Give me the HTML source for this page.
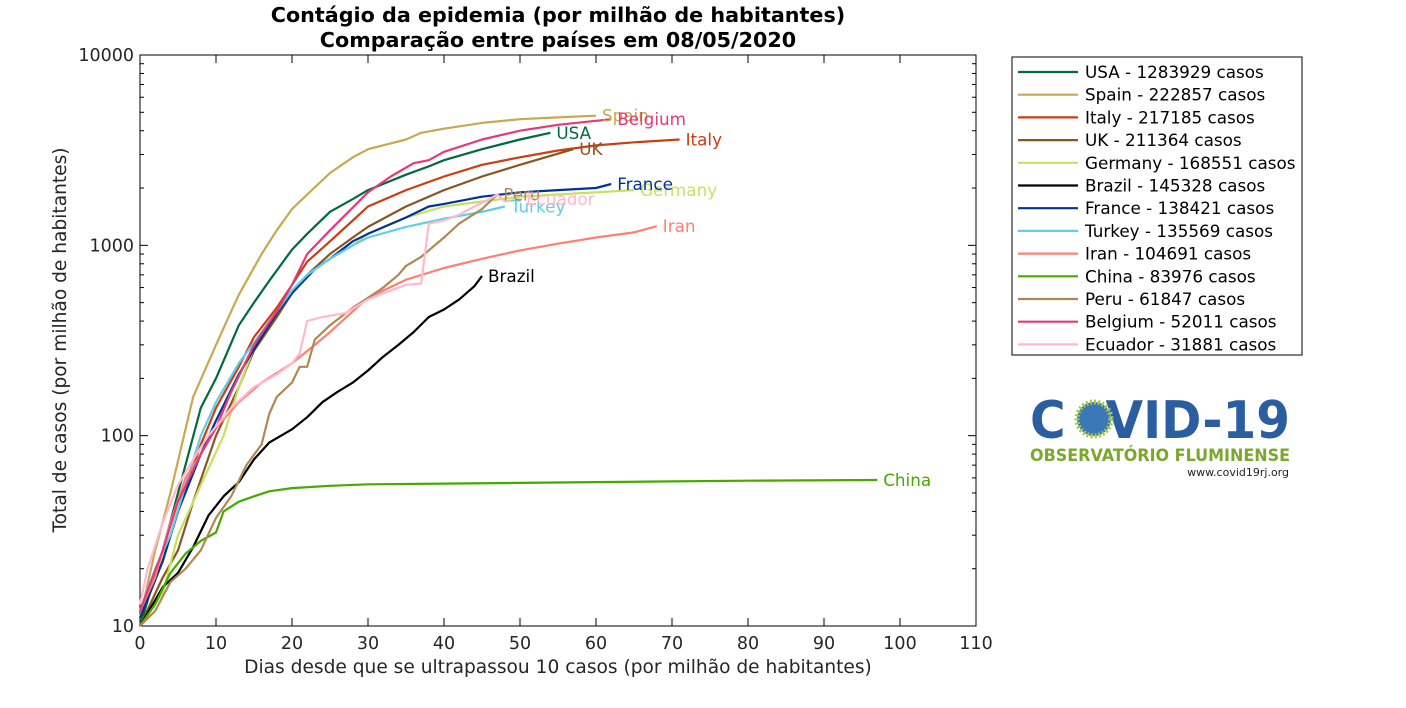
<!DOCTYPE html>
<html><head><meta charset="utf-8">
<style>
body{margin:0;background:#fff;width:1406px;height:703px;overflow:hidden;font-family:"Liberation Sans","DejaVu Sans",sans-serif;}
svg text{font-family:"DejaVu Sans","Liberation Sans",sans-serif;}
</style></head>
<body>
<svg id="chart" width="1406" height="703" xmlns="http://www.w3.org/2000/svg">
<text x="558" y="22" text-anchor="middle" font-size="20.7" font-weight="bold">Contágio da epidemia (por milhão de habitantes)</text>
<text x="558" y="47" text-anchor="middle" font-size="20.7" font-weight="bold">Comparação entre países em 08/05/2020</text>
<rect x="140" y="55" width="836" height="571" fill="#fff" stroke="#000" stroke-width="1"/>
<g id="axes"></g>
<g id="series"></g>
<text x="558" y="673" text-anchor="middle" font-size="18.6" fill="#262626">Dias desde que se ultrapassou 10 casos (por milhão de habitantes)</text>
<text transform="translate(66,340) rotate(-90)" text-anchor="middle" font-size="18.6" fill="#262626">Total de casos (por milhão de habitantes)</text>
<rect x="1012" y="57" width="290" height="298" fill="#fff" stroke="#000" stroke-width="1"/>
<g id="legend"></g>
<g>
<text x="1030" y="438" font-size="52" font-weight="bold" fill="#2a5ea0" font-family="Liberation Sans" textLength="260" lengthAdjust="spacingAndGlyphs">C<tspan fill="#fff">O</tspan>VID-19</text>
<circle cx="1094" cy="419" r="17" fill="#3a78b8" stroke="#a8c848" stroke-width="5" stroke-dasharray="2 2"/>
<text x="1030" y="461" font-size="17" font-weight="bold" fill="#7aa82a" font-family="Liberation Sans" textLength="260" lengthAdjust="spacingAndGlyphs">OBSERVATÓRIO FLUMINENSE</text>
<text x="1289" y="476" text-anchor="end" font-size="11" fill="#222" font-family="Liberation Sans">www.covid19rj.org</text>
</g>
</svg>
<script>
const countries=["USA","Spain","Italy","UK","Germany","Brazil","France","Turkey","Iran","China","Peru","Belgium","Ecuador"];
const totals=["1283929","222857","217185","211364","168551","145328","138421","135569","104691","83976","61847","52011","31881"];
const colors=["#006b3c","#c8a850","#cc3d10","#8b5522","#c8e060","#000000","#003399","#5bd0e8","#ff8070","#44aa00","#b08850","#e83878","#ffb8d0"];
const usaDays=[0,3,5,8,10,13,15,17,20,22,25,28,30,35,38,40,45,50,54];
const usaVals=[10,25,50,140,200,380,500,650,950,1150,1500,1750,1950,2350,2600,2800,3200,3600,3900];
const spainDays=[0,2,4,7,10,12,13,16,18,20,22,25,28,30,35,37,40,45,50,55,60];
const spainVals=[11,25,50,160,300,450,550,900,1200,1550,1850,2400,2900,3200,3600,3900,4100,4400,4600,4700,4800];
const italyDays=[0,3,5,8,10,13,15,18,20,22,25,28,30,35,40,45,50,55,60,65,71];
const italyVals=[11,22,40,90,140,230,330,470,620,820,1050,1350,1600,1950,2300,2650,2900,3150,3350,3480,3600];
const ukDays=[0,3,5,7,10,13,15,18,20,22,25,28,30,35,40,45,50,57];
const ukVals=[10,18,25,45,100,180,280,420,560,700,900,1100,1250,1600,1950,2300,2650,3200];
const germanyDays=[0,3,5,8,11,13,15,18,20,23,25,28,30,35,40,45,50,55,60,65];
const germanyVals=[10,15,30,55,100,180,290,450,580,750,850,1000,1150,1400,1600,1700,1800,1850,1900,1950];
const brazilDays=[0,3,5,7,9,11,13,15,17,20,22,24,26,28,30,32,34,36,38,40,42,44,45];
const brazilVals=[10,16,19,26,38,48,57,75,92,108,125,150,170,190,220,260,300,350,420,460,520,610,690];
const franceDays=[0,3,5,8,10,13,16,18,20,23,25,28,30,35,38,40,45,50,55,60,62];
const franceVals=[11,22,40,80,120,210,330,440,560,750,850,1050,1150,1400,1600,1650,1800,1900,1950,2000,2100];
const turkeyDays=[0,2,4,6,8,10,13,16,18,20,22,25,28,30,35,40,45,48];
const turkeyVals=[12,20,30,55,100,150,240,350,450,580,700,850,1000,1100,1250,1380,1500,1600];
const iranDays=[0,2,4,6,8,10,13,16,20,23,25,28,30,35,40,45,50,55,60,65,68];
const iranVals=[12,18,35,60,80,110,150,190,240,300,350,450,530,660,760,850,940,1020,1100,1170,1260];
const chinaDays=[0,2,4,6,8,10,11,13,15,17,20,25,30,40,50,60,70,80,97];
const chinaVals=[10,13,19,24,28,31,40,45,48,51,53,54.5,55.5,56,56.5,57,57.5,58,58.5];
const peruDays=[0,2,4,6,8,10,12,14,16,17,18,20,21,22,23,25,28,30,32,34,35,37,40,42,45,47];
const peruVals=[10,12,17,20,25,37,48,70,90,130,160,190,230,230,320,380,470,530,600,700,780,870,1100,1300,1550,1850];
const belgiumDays=[0,3,5,8,10,12,15,18,20,22,25,30,33,36,38,40,45,50,55,62];
const belgiumVals=[12,25,45,80,110,170,300,450,620,900,1200,1900,2300,2700,2800,3100,3600,4000,4300,4600];
const ecuadorDays=[0,1,3,5,7,9,12,15,18,20,21,22,24,27,30,32,35,37,38,40,42,44,46,47,48,50];
const ecuadorVals=[13,20,35,55,75,100,140,180,210,240,270,400,420,440,520,560,620,630,1300,1350,1450,1600,1750,1850,1700,1750];
const xTicks=[0,10,20,30,40,50,60,70,80,90,100,110];
const yTicks=[10,100,1000,10000];

const allDays=[usaDays,spainDays,italyDays,ukDays,germanyDays,brazilDays,franceDays,turkeyDays,iranDays,chinaDays,peruDays,belgiumDays,ecuadorDays];
const allVals=[usaVals,spainVals,italyVals,ukVals,germanyVals,brazilVals,franceVals,turkeyVals,iranVals,chinaVals,peruVals,belgiumVals,ecuadorVals];
const X0=140,X1=976,Y0=626,Y1=55;
function xs(d){return X0+(d/110)*(X1-X0);}
function ys(v){return Y0-(Math.log10(v)-1)/3*(Y0-Y1);}
const NS="http://www.w3.org/2000/svg";
function mk(tag,attrs,parent){const e=document.createElementNS(NS,tag);for(const k in attrs)e.setAttribute(k,attrs[k]);parent.appendChild(e);return e;}
const axes=document.getElementById('axes');
xTicks.forEach(t=>{
  const x=xs(t);
  const a=mk('line',{x1:x,x2:x,y1:Y0,y2:Y0-8,stroke:'#000'},axes);
  
  
  const b=mk('line',{x1:x,x2:x,y1:Y1,y2:Y1+8,stroke:'#000'},axes);
  
  
  const l=mk('text',{x:x,y:Y0+23,'text-anchor':'middle','font-size':17.5,fill:'#262626'},axes);
  l.textContent=t;
  
  
});
yTicks.forEach((t,i)=>{
  const y=ys(t);
  const l=mk('text',{x:X0-6,y:y+6,'text-anchor':'end','font-size':17.5,fill:'#262626'},axes);
  l.textContent=t;
  
  
  if(i<yTicks.length-1){
    for(let m=1;m<10;m++){
      const yy=ys(t*m);const len=m===1?8:4;
      const a=mk('line',{x1:X0,x2:X0+len,y1:yy,y2:yy,stroke:'#000'},axes);
      
      
      const b=mk('line',{x1:X1,x2:X1-len,y1:yy,y2:yy,stroke:'#000'},axes);
      
      
    }
  }
});
const ser=document.getElementById('series');
countries.forEach((c,i)=>{
  const d=allDays[i],v=allVals[i];
  const pts=d.map((dd,j)=>xs(dd).toFixed(1)+','+ys(v[j]).toFixed(1)).join(' ');
  const p=mk('polyline',{points:pts,fill:'none',stroke:colors[i],'stroke-width':2.2,'stroke-linejoin':'round'},ser);
  
  
});
countries.forEach((c,i)=>{
  const d=allDays[i],v=allVals[i];const n=d.length-1;
  const t=mk('text',{x:xs(d[n])+6,y:ys(v[n])+6,'font-size':16.8,fill:colors[i]},ser);
  t.textContent=c;
  
  
});
const leg=document.getElementById('legend');
countries.forEach((c,i)=>{
  const y=72+i*22.7;
  const g=mk('g',{},leg);
  
  
  mk('line',{x1:1018,x2:1078,y1:y,y2:y,stroke:colors[i],'stroke-width':2.2},g);
  const t=mk('text',{x:1085,y:y+6,'font-size':16.8,fill:'#000'},g);
  t.textContent=c+' - '+totals[i]+' casos';
});
</script>
</body></html>
